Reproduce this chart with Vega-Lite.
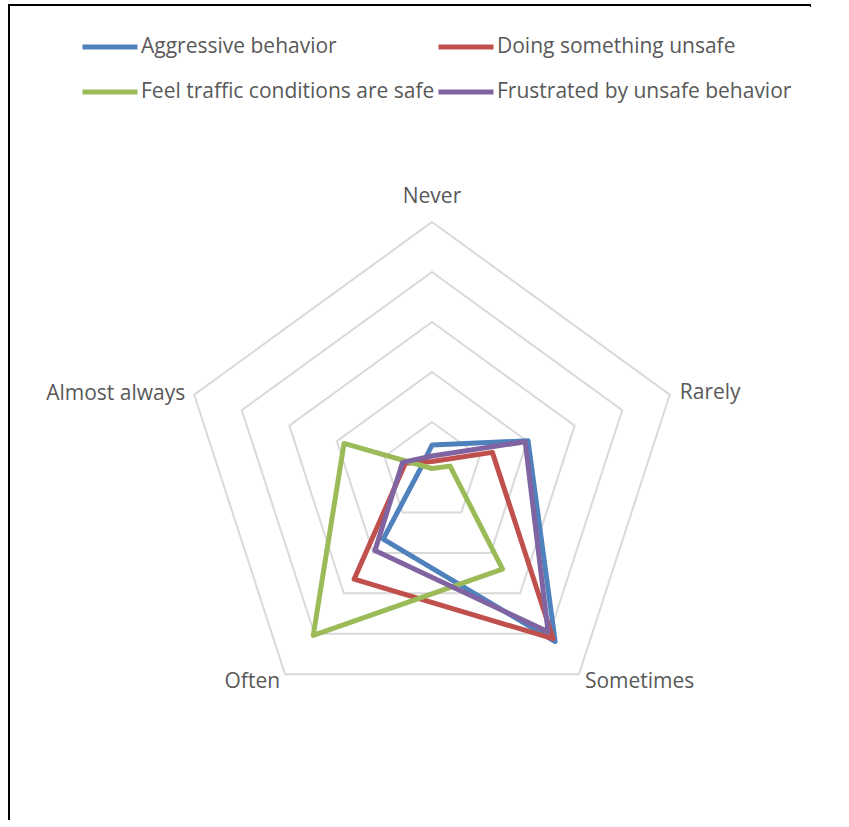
{
  "$schema": "https://vega.github.io/schema/vega-lite/v6.json",
  "width": 802,
  "height": 815,
  "autosize": {"type": "none"},
  "padding": {"left": 9, "top": 5, "right": 0, "bottom": 0},
  "background": "white",
  "config": {
    "view": {"stroke": "black", "strokeWidth": 2, "strokeDash": [804, 1615, 817]},
    "font": "Open Sans",
    "axis": {"disable": true}
  },
  "datasets": {
    "series": [
      {"series": "Aggressive behavior", "level": "Never", "value": 5.4},
      {"series": "Aggressive behavior", "level": "Rarely", "value": 20.2},
      {"series": "Aggressive behavior", "level": "Sometimes", "value": 41.9},
      {"series": "Aggressive behavior", "level": "Often", "value": 16.6},
      {"series": "Aggressive behavior", "level": "Almost always", "value": 2.4},
      {"series": "Doing something unsafe", "level": "Never", "value": 2.1},
      {"series": "Doing something unsafe", "level": "Rarely", "value": 12.7},
      {"series": "Doing something unsafe", "level": "Sometimes", "value": 41.2},
      {"series": "Doing something unsafe", "level": "Often", "value": 26.5},
      {"series": "Doing something unsafe", "level": "Almost always", "value": 5.6},
      {"series": "Feel traffic conditions are safe", "level": "Never", "value": 0.7},
      {"series": "Feel traffic conditions are safe", "level": "Rarely", "value": 3.8},
      {"series": "Feel traffic conditions are safe", "level": "Sometimes", "value": 24.0},
      {"series": "Feel traffic conditions are safe", "level": "Often", "value": 40.4},
      {"series": "Feel traffic conditions are safe", "level": "Almost always", "value": 18.5},
      {"series": "Frustrated by unsafe behavior", "level": "Never", "value": 3.2},
      {"series": "Frustrated by unsafe behavior", "level": "Rarely", "value": 19.6},
      {"series": "Frustrated by unsafe behavior", "level": "Sometimes", "value": 39.5},
      {"series": "Frustrated by unsafe behavior", "level": "Often", "value": 19.4},
      {"series": "Frustrated by unsafe behavior", "level": "Almost always", "value": 6.2}
    ],
    "rings": [
      {"ring": 10, "level": ["Never", "Rarely", "Sometimes", "Often", "Almost always"]},
      {"ring": 20, "level": ["Never", "Rarely", "Sometimes", "Often", "Almost always"]},
      {"ring": 30, "level": ["Never", "Rarely", "Sometimes", "Often", "Almost always"]},
      {"ring": 40, "level": ["Never", "Rarely", "Sometimes", "Often", "Almost always"]},
      {"ring": 50, "level": ["Never", "Rarely", "Sometimes", "Often", "Almost always"]}
    ],
    "labels": [
      {"level": "Never", "r": 50},
      {"level": "Rarely", "r": 50},
      {"level": "Sometimes", "r": 50},
      {"level": "Often", "r": 50},
      {"level": "Almost always", "r": 50}
    ]
  },
  "layer": [
    {
      "data": {"name": "rings"},
      "transform": [
        {"flatten": ["level"]},
        {"calculate": "indexof(['Never','Rarely','Sometimes','Often','Almost always'], datum.level)", "as": "idx"},
        {"calculate": "datum.ring * sin(datum.idx * 2 * PI / 5)", "as": "px"},
        {"calculate": "datum.ring * cos(datum.idx * 2 * PI / 5)", "as": "py"}
      ],
      "mark": {"type": "line", "interpolate": "linear-closed", "stroke": "#d9d9d9", "strokeWidth": 2},
      "encoding": {
        "x": {"field": "px", "type": "quantitative", "scale": {"domain": [-84.6, 75.8], "nice": false, "zero": false}},
        "y": {"field": "py", "type": "quantitative", "scale": {"domain": [-69.6, 93.4], "nice": false, "zero": false}},
        "detail": {"field": "ring"},
        "order": {"field": "idx", "type": "quantitative"}
      }
    },
    {
      "data": {"name": "series"},
      "transform": [
        {"calculate": "indexof(['Never','Rarely','Sometimes','Often','Almost always'], datum.level)", "as": "idx"},
        {"calculate": "datum.value * sin(datum.idx * 2 * PI / 5)", "as": "px"},
        {"calculate": "datum.value * cos(datum.idx * 2 * PI / 5)", "as": "py"}
      ],
      "mark": {"type": "line", "interpolate": "linear-closed", "strokeWidth": 5, "strokeJoin": "round"},
      "encoding": {
        "x": {"field": "px", "type": "quantitative"},
        "y": {"field": "py", "type": "quantitative"},
        "order": {"field": "idx", "type": "quantitative"},
        "color": {
          "field": "series",
          "type": "nominal",
          "scale": {
            "domain": ["Aggressive behavior", "Doing something unsafe", "Feel traffic conditions are safe", "Frustrated by unsafe behavior"],
            "range": ["#4f81bd", "#c0504d", "#9bbb59", "#8064a2"]
          },
          "legend": {
            "title": null,
            "orient": "none",
            "legendX": 71,
            "legendY": 12,
            "direction": "horizontal",
            "columns": 2,
            "symbolType": "stroke",
            "symbolSize": 3025,
            "symbolStrokeWidth": 5,
            "labelFontSize": 21,
            "labelFont": "Open Sans",
            "labelColor": "#595959",
            "labelOffset": 1,
            "columnPadding": -7,
            "rowPadding": 5,
            "labelLimit": 500
          }
        }
      }
    },
    {
      "data": {"name": "labels"},
      "transform": [
        {"filter": "datum.level == 'Never'"},
        {"calculate": "indexof(['Never','Rarely','Sometimes','Often','Almost always'], datum.level)", "as": "idx"},
        {"calculate": "datum.r * sin(datum.idx * 2 * PI / 5)", "as": "px"},
        {"calculate": "datum.r * cos(datum.idx * 2 * PI / 5)", "as": "py"}
      ],
      "mark": {"type": "text", "align": "center", "baseline": "middle", "dy": -25, "fontSize": 21, "color": "#595959"},
      "encoding": {
        "x": {"field": "px", "type": "quantitative"},
        "y": {"field": "py", "type": "quantitative"},
        "text": {"field": "level"}
      }
    },
    {
      "data": {"name": "labels"},
      "transform": [
        {"filter": "datum.level == 'Rarely'"},
        {"calculate": "indexof(['Never','Rarely','Sometimes','Often','Almost always'], datum.level)", "as": "idx"},
        {"calculate": "datum.r * sin(datum.idx * 2 * PI / 5)", "as": "px"},
        {"calculate": "datum.r * cos(datum.idx * 2 * PI / 5)", "as": "py"}
      ],
      "mark": {"type": "text", "align": "left", "baseline": "middle", "dx": 10, "dy": -2, "fontSize": 21, "color": "#595959"},
      "encoding": {
        "x": {"field": "px", "type": "quantitative"},
        "y": {"field": "py", "type": "quantitative"},
        "text": {"field": "level"}
      }
    },
    {
      "data": {"name": "labels"},
      "transform": [
        {"filter": "datum.level == 'Sometimes'"},
        {"calculate": "indexof(['Never','Rarely','Sometimes','Often','Almost always'], datum.level)", "as": "idx"},
        {"calculate": "datum.r * sin(datum.idx * 2 * PI / 5)", "as": "px"},
        {"calculate": "datum.r * cos(datum.idx * 2 * PI / 5)", "as": "py"}
      ],
      "mark": {"type": "text", "align": "left", "baseline": "middle", "dx": 6, "dy": 8, "fontSize": 21, "color": "#595959"},
      "encoding": {
        "x": {"field": "px", "type": "quantitative"},
        "y": {"field": "py", "type": "quantitative"},
        "text": {"field": "level"}
      }
    },
    {
      "data": {"name": "labels"},
      "transform": [
        {"filter": "datum.level == 'Often'"},
        {"calculate": "indexof(['Never','Rarely','Sometimes','Often','Almost always'], datum.level)", "as": "idx"},
        {"calculate": "datum.r * sin(datum.idx * 2 * PI / 5)", "as": "px"},
        {"calculate": "datum.r * cos(datum.idx * 2 * PI / 5)", "as": "py"}
      ],
      "mark": {"type": "text", "align": "right", "baseline": "middle", "dx": -5, "dy": 8, "fontSize": 21, "color": "#595959"},
      "encoding": {
        "x": {"field": "px", "type": "quantitative"},
        "y": {"field": "py", "type": "quantitative"},
        "text": {"field": "level"}
      }
    },
    {
      "data": {"name": "labels"},
      "transform": [
        {"filter": "datum.level == 'Almost always'"},
        {"calculate": "indexof(['Never','Rarely','Sometimes','Often','Almost always'], datum.level)", "as": "idx"},
        {"calculate": "datum.r * sin(datum.idx * 2 * PI / 5)", "as": "px"},
        {"calculate": "datum.r * cos(datum.idx * 2 * PI / 5)", "as": "py"}
      ],
      "mark": {"type": "text", "align": "right", "baseline": "middle", "dx": -9, "dy": -1, "fontSize": 21, "color": "#595959"},
      "encoding": {
        "x": {"field": "px", "type": "quantitative"},
        "y": {"field": "py", "type": "quantitative"},
        "text": {"field": "level"}
      }
    }
  ]
}
